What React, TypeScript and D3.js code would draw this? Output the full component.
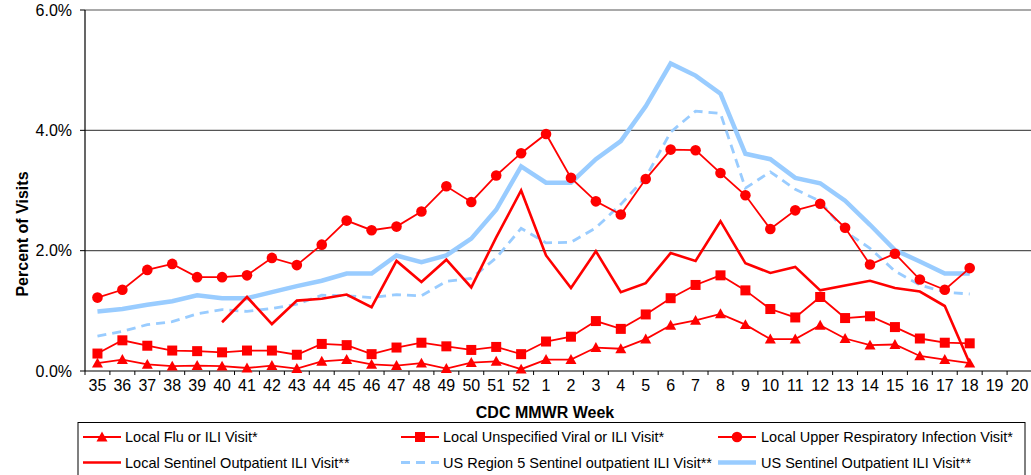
import React from "react";
import * as d3 from "d3";

const weeks = [
  "35","36","37","38","39","40","41","42","43","44","45","46","47","48","49","50","51","52",
  "1","2","3","4","5","6","7","8","9","10","11","12","13","14","15","16","17","18","19","20",
];

const fluIli = [
  0.13,0.19,0.11,0.08,0.09,0.08,0.05,0.09,0.04,0.16,0.19,0.11,0.09,0.13,0.04,0.14,0.16,0.03,
  0.19,0.19,0.39,0.37,0.53,0.76,0.84,0.95,0.77,0.53,0.53,0.76,0.54,0.43,0.44,0.25,0.19,0.13,null,null,
];
const unspecViral = [
  0.29,0.51,0.42,0.34,0.33,0.31,0.34,0.34,0.27,0.45,0.43,0.28,0.39,0.47,0.41,0.35,0.40,0.28,
  0.49,0.57,0.83,0.70,0.94,1.21,1.43,1.59,1.34,1.03,0.89,1.23,0.88,0.91,0.73,0.54,0.47,0.46,null,null,
];
const uri = [
  1.22,1.35,1.68,1.78,1.56,1.56,1.59,1.88,1.76,2.10,2.50,2.34,2.40,2.65,3.07,2.81,3.25,3.62,
  3.94,3.21,2.82,2.60,3.19,3.68,3.67,3.29,2.92,2.36,2.67,2.78,2.38,1.77,1.95,1.52,1.35,1.71,null,null,
];
const localSentinel = [
  null,null,null,null,null,0.81,1.23,0.78,1.17,1.20,1.27,1.06,1.83,1.48,1.85,1.39,2.22,3.0,
  1.92,1.38,1.99,1.31,1.46,1.96,1.83,2.49,1.79,1.63,1.73,1.34,1.42,1.50,1.38,1.32,1.08,0.13,null,null,
];
const region5 = [
  0.58,0.66,0.77,0.82,0.95,1.02,0.99,1.04,1.11,1.26,1.25,1.22,1.27,1.25,1.49,1.54,1.88,2.37,
  2.13,2.14,2.38,2.77,3.22,3.97,4.32,4.28,3.04,3.31,3.02,2.82,2.32,2.04,1.66,1.43,1.31,1.28,null,null,
];
const usSentinel = [
  0.99,1.03,1.10,1.16,1.26,1.21,1.21,1.31,1.41,1.50,1.62,1.62,1.92,1.81,1.92,2.20,2.68,3.40,
  3.13,3.13,3.52,3.82,4.40,5.11,4.91,4.61,3.61,3.52,3.21,3.12,2.83,2.43,2.01,1.82,1.62,1.62,null,null,
];

const yTicks = [0, 2, 4, 6];

const legendLabels = [
  "Local Flu or ILI Visit*",
  "Local Unspecified Viral or ILI Visit*",
  "Local Upper Respiratory Infection Visit*",
  "Local Sentinel Outpatient ILI Visit**",
  "US Region 5 Sentinel outpatient ILI Visit**",
  "US Sentinel Outpatient ILI Visit**",
];

const RED = "#ff0000";
const BLUE = "#99ccff";
const FONT = "'Liberation Sans', Arial, sans-serif";

type Marker = "triangle" | "square" | "circle" | "none";
interface Series {
  values: (number | null)[];
  color: string;
  width: number;
  dash?: string;
  marker: Marker;
}

const W = 1031;
const H = 475;
const left = 85;
const right = 1032;
const top = 10;
const bottom = 371;

function MarkerShape({ kind, x, y }: { kind: Marker; x: number; y: number }) {
  if (kind === "triangle") {
    const s = 5.5;
    return (
      <path
        d={`M${x},${y - s}L${x + s},${y + s * 0.8}L${x - s},${y + s * 0.8}Z`}
        fill={RED}
      />
    );
  }
  if (kind === "square") {
    return <rect x={x - 5} y={y - 5} width={10} height={10} fill={RED} />;
  }
  if (kind === "circle") {
    return <circle cx={x} cy={y} r={5.3} fill={RED} />;
  }
  return null;
}

export default function App() {
  const x = d3.scaleBand<string>().domain(weeks).range([left, right]).padding(0);
  const y = d3.scaleLinear().domain([0, 6]).range([bottom, top]);
  const cx = (w: string) => (x(w) as number) + x.bandwidth() / 2;

  const series: Series[] = [
    { values: usSentinel, color: BLUE, width: 4.5, marker: "none" },
    { values: region5, color: BLUE, width: 2.8, dash: "9,6", marker: "none" },
    { values: localSentinel, color: RED, width: 2.6, marker: "none" },
    { values: fluIli, color: RED, width: 1.8, marker: "triangle" },
    { values: unspecViral, color: RED, width: 1.8, marker: "square" },
    { values: uri, color: RED, width: 1.8, marker: "circle" },
  ];

  const line = d3
    .line<[string, number | null]>()
    .defined((d) => d[1] !== null)
    .x((d) => cx(d[0]))
    .y((d) => y(d[1] as number));

  const legendItems = [
    { label: legendLabels[0], color: RED, width: 1.8, marker: "triangle" as Marker, lx: 83, tx: 125, row: 0 },
    { label: legendLabels[1], color: RED, width: 1.8, marker: "square" as Marker, lx: 401, tx: 443, row: 0 },
    { label: legendLabels[2], color: RED, width: 1.8, marker: "circle" as Marker, lx: 718, tx: 761, row: 0 },
    { label: legendLabels[3], color: RED, width: 2.6, marker: "none" as Marker, lx: 83, tx: 125, row: 1 },
    { label: legendLabels[4], color: BLUE, width: 2.8, marker: "none" as Marker, lx: 401, tx: 443, row: 1, dash: "9,6" },
    { label: legendLabels[5], color: BLUE, width: 4.5, marker: "none" as Marker, lx: 718, tx: 761, row: 1 },
  ];

  return (
    <svg
      width={W}
      height={H}
      style={{ position: "absolute", left: 0, top: 0, background: "#fff" }}
      fontFamily={FONT}
    >
      <rect x={0} y={0} width={W} height={H} fill="#fff" />
      {/* gridlines */}
      {yTicks.filter((t) => t > 0).map((t) => (
        <line key={t} x1={left} x2={right} y1={y(t)} y2={y(t)} stroke="#555" strokeWidth={1.2} />
      ))}
      {/* y axis */}
      <line x1={left} x2={left} y1={top} y2={bottom} stroke="#000" strokeWidth={1.2} />
      {yTicks.map((t) => (
        <g key={t}>
          <line x1={left - 5} x2={left} y1={y(t)} y2={y(t)} stroke="#000" strokeWidth={1} />
          <text x={72} y={y(t)} dy="0.35em" textAnchor="end" fontSize={16} fill="#000">
            {d3.format(".1f")(t) + "%"}
          </text>
        </g>
      ))}
      {/* x axis */}
      <line x1={left} x2={right} y1={bottom} y2={bottom} stroke="#000" strokeWidth={1.2} />
      {weeks.map((w) => (
        <line
          key={"t" + w}
          x1={x(w) as number}
          x2={x(w) as number}
          y1={bottom}
          y2={bottom + 4}
          stroke="#000"
          strokeWidth={1}
        />
      ))}
      {weeks.map((w) => (
        <text key={"l" + w} x={cx(w)} y={391} textAnchor="middle" fontSize={16} fill="#000">
          {w}
        </text>
      ))}
      <text x={545} y={418} textAnchor="middle" fontSize={16} fontWeight="bold" fill="#000">
        CDC MMWR Week
      </text>
      <text
        transform={`translate(28,234) rotate(-90)`}
        textAnchor="middle"
        fontSize={16}
        fontWeight="bold"
        fill="#000"
      >
        Percent of Visits
      </text>
      {/* series */}
      {series.map((s, i) => {
        const pts = weeks.map((w, j) => [w, s.values[j]] as [string, number | null]);
        return (
          <g key={i}>
            <path
              d={line(pts) || ""}
              fill="none"
              stroke={s.color}
              strokeWidth={s.width}
              strokeDasharray={s.dash}
              strokeLinejoin="miter"
            />
            {s.marker !== "none" &&
              pts
                .filter((p) => p[1] !== null)
                .map((p) => (
                  <MarkerShape key={p[0]} kind={s.marker} x={cx(p[0])} y={y(p[1] as number)} />
                ))}
          </g>
        );
      })}
      {/* legend */}
      <rect x={78} y={422.5} width={947} height={70} fill="none" stroke="#000" strokeWidth={1} />
      {legendItems.map((it, i) => {
        const ly = it.row === 0 ? 437 : 462.5;
        return (
          <g key={i}>
            <line
              x1={it.lx}
              x2={it.lx + 38}
              y1={ly}
              y2={ly}
              stroke={it.color}
              strokeWidth={it.width}
              strokeDasharray={(it as any).dash}
            />
            <MarkerShape kind={it.marker} x={it.lx + 19} y={ly} />
            <text x={it.tx} y={ly} dy="0.35em" fontSize={14.5} fill="#000">
              {it.label}
            </text>
          </g>
        );
      })}
    </svg>
  );
}
